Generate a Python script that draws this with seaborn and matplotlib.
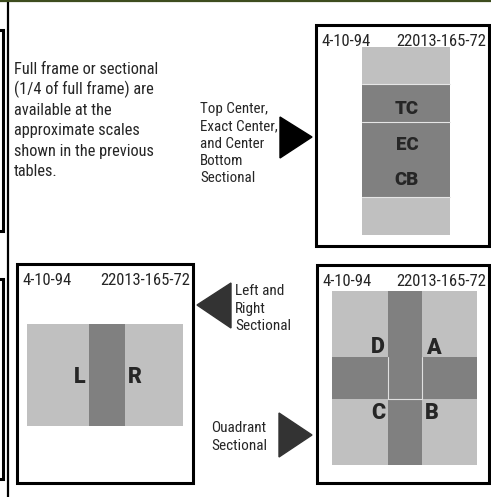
import matplotlib
matplotlib.use("Agg")
import matplotlib.pyplot as plt
from matplotlib import font_manager
from matplotlib.patches import Rectangle, Polygon
import seaborn as sns

# text content of the diagram
intro_lines = ['Full frame or sectional', '(1/4 of full frame) are', 'available at the',
               'approximate scales', 'shown in the previous', 'tables.']
center_caption = ['Top Center,', 'Exact Center,', 'and Center', 'Bottom', 'Sectional']
lr_caption = ['Left and', 'Right', 'Sectional']
quad_caption = ['Ouadrant', 'Sectional']
frame_date = '4-10-94'
frame_id = '22013-165-72'
center_labels = ['TC', 'EC', 'CB']
lr_labels = ['L', 'R']
quad_labels = ['D', 'A', 'C', 'B']

LIGHT = '#c0c0c0'
DARK = '#808080'

sns.set_style('white')

# pick a narrow sans if one is installed, else squeeze Liberation Sans a bit
installed = {f.name for f in font_manager.fontManager.ttflist}
narrow = None
for cand in ['Liberation Sans Narrow', 'Arial Narrow', 'Roboto Condensed', 'DejaVu Sans Condensed']:
    if cand in installed:
        narrow = cand
        break
if narrow:
    NARROW, SCALE = narrow, 1.0
else:
    NARROW, SCALE = 'Liberation Sans', 0.84
BOLD = 'Roboto' if 'Roboto' in installed else 'Liberation Sans'

fig = plt.figure(figsize=(4.91, 4.97), dpi=100)
ax = fig.add_axes([0, 0, 1, 1])
ax.set_xlim(0, 491)
ax.set_ylim(497, 0)
ax.axis('off')


def rect(x0, y0, x1, y1, **kw):
    ax.add_patch(Rectangle((x0, y0), x1 - x0, y1 - y0, **kw))


def frame(x0, y0, x1, y1):
    rect(x0, y0, x1, y1, facecolor='white', edgecolor='black', lw=2.2, zorder=1)
    ax.text(x0 + 6, y0 + 21, frame_date, fontsize=12 * SCALE, family=NARROW,
            va='baseline', zorder=5)
    ax.text(x1 - 3, y0 + 21, frame_id, fontsize=12 * SCALE, family=NARROW,
            va='baseline', ha='right', zorder=5)


def caption(lines, x, y0, step, size):
    for i, line in enumerate(lines):
        ax.text(x, y0 + i * step, line, fontsize=size * SCALE, family=NARROW, va='baseline')


def label(txt, x, y, size):
    ax.text(x, y, txt, fontsize=size, family=BOLD, fontweight=900,
            ha='center', va='center', zorder=6)


# page decorations
ax.plot([0, 491], [1, 1], color='#3d4d1e', lw=1.6, solid_capstyle='butt')
ax.plot([8, 8], [2, 497], color='black', lw=1.6, solid_capstyle='butt')
rect(-60, 30, 2.5, 231, facecolor='white', edgecolor='black', lw=2.2)
rect(-60, 279, 2.5, 479, facecolor='white', edgecolor='black', lw=2.2)

caption(intro_lines, 14, 74, 20.4, 11.8)
caption(center_caption, 200, 113, 17.3, 10.8)
caption(lr_caption, 235, 295, 17.5, 11)
caption(quad_caption, 211, 432, 18, 11)

# arrows
ax.add_patch(Polygon([(280, 117), (280, 158), (312, 137)], closed=True, color='black'))
ax.add_patch(Polygon([(197, 305), (231, 283), (231, 328)], closed=True, color='#333333'))
ax.add_patch(Polygon([(279, 413), (279, 457), (312, 435)], closed=True, color='#333333'))

# top center / exact center / center bottom frame
frame(316, 25, 489, 246)
rect(362, 47, 450, 235, facecolor=LIGHT, lw=0, zorder=2)
rect(362, 84, 450, 197, facecolor=DARK, lw=0, zorder=3)
for yy in [84, 122, 197]:
    ax.plot([362, 450], [yy, yy], color='#e6e6e6', lw=0.8, zorder=4)
for lab, yy in zip(center_labels, [109, 145, 180]):
    label(lab, 407, yy, 13.5)

# left / right frame
frame(17, 264, 193, 483)
rect(27, 324, 183, 426, facecolor=LIGHT, lw=0, zorder=2)
rect(89, 324, 125, 426, facecolor=DARK, lw=0, zorder=3)
for lab, xx in zip(lr_labels, [80, 135]):
    label(lab, xx, 377, 15.5)

# quadrant frame
frame(317, 265, 489, 483)
rect(332, 291, 477, 465, facecolor=LIGHT, lw=0, zorder=2)
rect(332, 357, 477, 399, facecolor=DARK, lw=0, zorder=3)
rect(388, 291, 422, 465, facecolor=DARK, lw=0, zorder=3)
ax.plot([388, 388], [357, 399], color='#e0e0e0', lw=0.8, zorder=4)
ax.plot([422, 422], [357, 399], color='#e0e0e0', lw=0.8, zorder=4)
ax.plot([388, 422], [399, 399], color='#e0e0e0', lw=0.8, zorder=4)
for lab, (xx, yy) in zip(quad_labels, [(378, 347), (433, 348), (378, 413), (432, 413)]):
    label(lab, xx, yy, 15.5)

fig.savefig('out.png', dpi=100)
